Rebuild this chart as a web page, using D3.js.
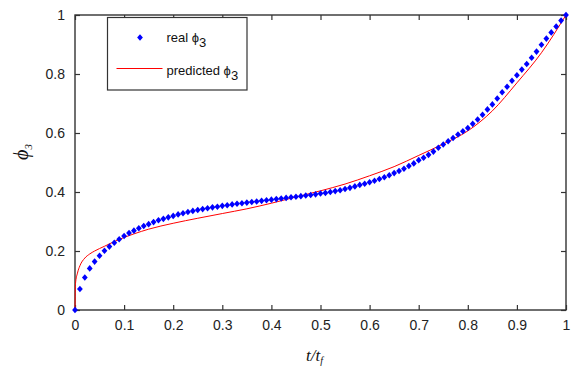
<!DOCTYPE html>
<html>
<head>
<meta charset="utf-8">
<script src="https://cdn.jsdelivr.net/npm/d3@7"></script>
<style>
  html, body { margin: 0; padding: 0; background: #fff; }
  svg { display: block; }
  .tick-label { font-family: "Liberation Sans Narrow", "Liberation Sans", Arial, sans-serif; font-size: 14px; fill: #222; }
  .legend-text { font-family: "Liberation Sans", Arial, sans-serif; font-size: 13px; fill: #111; }
  .axis-title { font-family: "Liberation Serif", "Times New Roman", serif; font-style: italic; fill: #111; }
</style>
</head>
<body>
<div id="chart"></div>
<script>
// real phi_3 samples, one every 0.01 of t/tf
const realT = d3.range(0, 101).map(i => i / 100);
const realPhi = [
  0.000, 0.071, 0.110, 0.141, 0.164, 0.184, 0.201, 0.215, 0.228, 0.240,
  0.251, 0.261, 0.269, 0.277, 0.285, 0.291, 0.298, 0.304, 0.309, 0.314,
  0.319, 0.324, 0.328, 0.332, 0.336, 0.339, 0.342, 0.345, 0.348, 0.350,
  0.353, 0.355, 0.358, 0.360, 0.362, 0.364, 0.366, 0.368, 0.370, 0.372,
  0.374, 0.376, 0.378, 0.380, 0.382, 0.384, 0.386, 0.388, 0.390, 0.392,
  0.395, 0.397, 0.400, 0.403, 0.406, 0.410, 0.414, 0.419, 0.424, 0.428,
  0.433, 0.438, 0.444, 0.450, 0.457, 0.464, 0.471, 0.479, 0.488, 0.497,
  0.508, 0.516, 0.526, 0.537, 0.550, 0.561, 0.572, 0.583, 0.595, 0.606,
  0.617, 0.631, 0.646, 0.662, 0.680, 0.697, 0.717, 0.738, 0.757, 0.777,
  0.796, 0.815, 0.834, 0.855, 0.876, 0.899, 0.920, 0.941, 0.961, 0.981,
  1.000
];

// predicted phi_3 curve
const predT = [0, 0.001, 0.005, 0.01, 0.02, 0.03, 0.04, 0.06, 0.08, 0.10, 0.12, 0.15,
  0.20, 0.25, 0.30, 0.35, 0.40, 0.45, 0.50, 0.55, 0.60, 0.65, 0.70, 0.75, 0.80,
  0.85, 0.90, 0.95, 1.00];
const predPhi = [0, 0.090, 0.125, 0.150, 0.176, 0.190, 0.200, 0.216, 0.232, 0.246, 0.258, 0.274,
  0.294, 0.311, 0.327, 0.343, 0.362, 0.383, 0.404, 0.427, 0.455, 0.486, 0.524, 0.563, 0.607,
  0.675, 0.770, 0.872, 1.000];

const xTicks = [0, 0.1, 0.2, 0.3, 0.4, 0.5, 0.6, 0.7, 0.8, 0.9, 1];
const yTicks = [0, 0.2, 0.4, 0.6, 0.8, 1];

const width = 571;
const height = 367;
const margin = { top: 15, right: 5, bottom: 57, left: 75 };
const plotW = width - margin.left - margin.right;
const plotH = height - margin.top - margin.bottom;

const svg = d3.select('#chart')
  .append('svg')
  .attr('width', width)
  .attr('height', height);

const g = svg.append('g')
  .attr('transform', `translate(${margin.left},${margin.top})`);

const x = d3.scaleLinear().domain([0, 1]).range([0, plotW]);
const y = d3.scaleLinear().domain([0, 1]).range([plotH, 0]);

// axes, ticks pointing inward on all four sides
const tickLen = 5;
const axisColor = '#333';

g.append('g')
  .attr('transform', `translate(0,${plotH})`)
  .call(d3.axisBottom(x).tickValues(xTicks).tickSizeInner(-tickLen).tickSizeOuter(0)
    .tickPadding(10).tickFormat(d => d3.format('')(+d.toFixed(1))))
  .call(sel => sel.selectAll('text').attr('class', 'tick-label').attr('dy', '0.71em'));

g.append('g')
  .call(d3.axisTop(x).tickValues(xTicks).tickSizeInner(-tickLen).tickSizeOuter(0).tickFormat(''));

g.append('g')
  .call(d3.axisLeft(y).tickValues(yTicks).tickSizeInner(-tickLen).tickSizeOuter(0)
    .tickPadding(10).tickFormat(d => d3.format('')(+d.toFixed(1))))
  .call(sel => sel.selectAll('text').attr('class', 'tick-label'));

g.append('g')
  .attr('transform', `translate(${plotW},0)`)
  .call(d3.axisRight(y).tickValues(yTicks).tickSizeInner(-tickLen).tickSizeOuter(0).tickFormat(''));

// clean default axis styling
g.selectAll('.domain').remove();
g.selectAll('.tick line').attr('stroke', axisColor).attr('stroke-width', 1.2);
g.selectAll('.tick text').attr('font-family', null).attr('font-size', null).attr('fill', null);

// box frame
g.append('rect')
  .attr('x', 0).attr('y', 0)
  .attr('width', plotW).attr('height', plotH)
  .attr('fill', 'none')
  .attr('stroke', axisColor)
  .attr('stroke-width', 1.4);

// predicted line
const line = d3.line()
  .x((d, i) => x(predT[i]))
  .y(d => y(d))
  .curve(d3.curveMonotoneX);

g.append('path')
  .datum(predPhi)
  .attr('d', line)
  .attr('fill', 'none')
  .attr('stroke', '#ff0000')
  .attr('stroke-width', 1);

// real points as diamonds
const diamond = 'M0,-3.3L2.9,0L0,3.3L-2.9,0Z';

g.selectAll('.pt')
  .data(realPhi)
  .enter()
  .append('path')
  .attr('class', 'pt')
  .attr('d', diamond)
  .attr('transform', (d, i) => `translate(${x(realT[i])},${y(d)})`)
  .attr('fill', '#0000ff');

// legend
const legend = svg.append('g').attr('transform', 'translate(107.5,17.5)');
legend.append('rect')
  .attr('width', 139.5).attr('height', 72.5)
  .attr('fill', '#fff')
  .attr('stroke', axisColor)
  .attr('stroke-width', 1.2);

legend.append('path')
  .attr('d', diamond)
  .attr('transform', 'translate(32.5,20)')
  .attr('fill', '#0000ff');

legend.append('line')
  .attr('x1', 9).attr('x2', 55)
  .attr('y1', 51).attr('y2', 51)
  .attr('stroke', '#ff0000')
  .attr('stroke-width', 1);

const t1 = legend.append('text').attr('class', 'legend-text').attr('x', 59).attr('y', 24);
t1.append('tspan').text('real ϕ');
t1.append('tspan').attr('dy', 5).text('3');

const t2 = legend.append('text').attr('class', 'legend-text').attr('x', 59).attr('y', 57);
t2.append('tspan').text('predicted ϕ');
t2.append('tspan').attr('dy', 5).text('3');

// axis titles
const xt = svg.append('text').attr('class', 'axis-title')
  .attr('x', 306).attr('y', 361).attr('font-size', 17);
xt.append('tspan').text('t/t');
xt.append('tspan').attr('dy', 3).attr('font-size', 10).text('f');

const yt = svg.append('text').attr('class', 'axis-title')
  .attr('transform', 'translate(28,152) rotate(-90)')
  .attr('text-anchor', 'middle')
  .attr('font-size', 20);
yt.append('tspan').text('ϕ');
yt.append('tspan').attr('dy', 4).attr('font-size', 11).text('3');
</script>
</body>
</html>
